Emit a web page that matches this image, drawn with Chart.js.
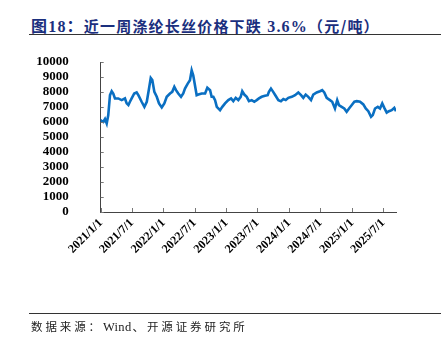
<!DOCTYPE html>
<html>
<head>
<meta charset="utf-8">
<script src="https://cdn.jsdelivr.net/npm/chart.js@4.4.1/dist/chart.umd.min.js"></script>
<style>
  html, body { margin: 0; padding: 0; background: #fff; }
  body { width: 442px; height: 347px; position: relative; overflow: hidden; }
  #title {
    position: absolute; left: 31px; top: 13px; white-space: nowrap;
    font-family: "Liberation Serif", "Noto Sans CJK SC", serif; font-weight: bold;
    font-size: 16px; color: #1B2F7E; letter-spacing: 1.2px;
  }
  #title .cn { font-family: "Noto Sans CJK SC", sans-serif; font-size: 15px; }
  .rule { position: absolute; left: 29px; width: 412px; height: 1px; background: #333; }
  #source {
    position: absolute; left: 31px; top: 318px; white-space: nowrap;
    font-family: "Liberation Serif", "Noto Sans CJK SC", serif;
    font-size: 12px; color: #222;
  }
  #source .cn { font-family: "Noto Sans CJK SC", sans-serif; font-size: 11.5px; letter-spacing: 2.9px; }
  #source .en { font-size: 12.5px; letter-spacing: 0.3px; margin-right: 1px; }
  #wrap { position: absolute; left: 0; top: 0; width: 442px; height: 347px; }
</style>
</head>
<body>
<div id="title">图18：<span class="cn">近一周涤纶长丝价格下跌</span> 3.6%<span class="cn">（元/吨）</span></div>
<div class="rule" style="top:34px"></div>
<div id="wrap"><canvas id="myChart"></canvas></div>
<div class="rule" style="top:313px"></div>
<div id="source"><span class="cn">数据来源：</span><span class="en">Wind</span><span class="cn">、开源证券研究所</span></div>
<script>
// 涤纶长丝价格（元/吨）
const dates = [
  '2021-01-01','2021-01-03','2021-01-16','2021-01-26','2021-02-05','2021-02-14','2021-02-24','2021-03-06',
  '2021-03-15','2021-03-25','2021-04-13','2021-05-03','2021-05-22','2021-06-01','2021-06-11','2021-06-20',
  '2021-06-30','2021-07-15','2021-07-29','2021-08-08','2021-08-27','2021-09-12','2021-09-26','2021-10-09',
  '2021-10-19','2021-10-28','2021-11-09','2021-11-23','2021-12-06','2021-12-22','2022-01-06','2022-01-20',
  '2022-02-08','2022-02-21','2022-03-05','2022-03-15','2022-03-28','2022-04-13','2022-04-26','2022-05-06',
  '2022-05-22','2022-06-04','2022-06-14','2022-06-23','2022-07-03','2022-07-13','2022-07-23','2022-08-11',
  '2022-08-31','2022-09-13','2022-09-29','2022-10-08','2022-10-18','2022-10-28','2022-11-07','2022-11-26',
  '2022-12-09','2022-12-25','2023-01-13','2023-01-29','2023-02-11','2023-02-25','2023-03-12','2023-03-26',
  '2023-04-04','2023-04-16','2023-04-30','2023-05-13','2023-05-29','2023-06-13','2023-06-27','2023-07-10',
  '2023-07-26','2023-08-14','2023-08-30','2023-09-06','2023-09-18','2023-10-01','2023-10-15','2023-10-31',
  '2023-11-15','2023-11-29','2023-12-13','2023-12-28','2024-01-17','2024-02-05','2024-02-24','2024-03-11',
  '2024-03-24','2024-04-07','2024-04-22','2024-05-08','2024-05-21','2024-06-10','2024-06-29','2024-07-12',
  '2024-07-24','2024-08-07','2024-08-26','2024-09-08','2024-09-24','2024-10-07','2024-10-17','2024-11-02',
  '2024-11-17','2024-12-01','2024-12-15','2024-12-31','2025-01-15','2025-01-29','2025-02-17','2025-03-08',
  '2025-03-22','2025-04-06','2025-04-22','2025-05-02','2025-05-15','2025-05-31','2025-06-13','2025-06-26',
  '2025-07-08','2025-07-22','2025-08-04','2025-08-20','2025-09-04','2025-09-14'
];
const prices = [
  5950, 6100, 6000, 6200, 5900, 6460, 7790, 8050,
  7900, 7570, 7570, 7460, 7570, 7240, 7130, 7350,
  7570, 7900, 7970, 7790, 7350, 7010, 7350, 8230,
  8940, 8800, 8010, 7680, 7240, 6970, 7240, 7680,
  7900, 8010, 8340, 8120, 7900, 7680, 7900, 8230,
  8560, 8780, 9450, 9120, 8450, 7790, 7830, 7900,
  7900, 8280, 8120, 7680, 7680, 7460, 7010, 6790,
  7010, 7240, 7460, 7570, 7390, 7610, 7460, 7680,
  8050, 7830, 7680, 7390, 7460, 7350, 7460, 7570,
  7680, 7750, 7790, 8010, 8230, 8010, 7750, 7460,
  7390, 7530, 7460, 7610, 7680, 7790, 7970, 7790,
  7610, 7830, 7680, 7460, 7830, 7970, 8050, 8120,
  7970, 7610, 7460, 7350, 6900, 7460, 7130, 7010,
  6900, 6680, 6900, 7130, 7350, 7390, 7350, 7170,
  6900, 6720, 6350, 6460, 6900, 7010, 6900, 7240,
  6940, 6630, 6720, 6790, 6940, 6720
];
const tickDates = ['2021-01-01','2021-07-01','2022-01-01','2022-07-01','2023-01-01',
  '2023-07-01','2024-01-01','2024-07-01','2025-01-01','2025-07-01'];
const tickLabels = ['2021/1/1','2021/7/1','2022/1/1','2022/7/1','2023/1/1',
  '2023/7/1','2024/1/1','2024/7/1','2025/1/1','2025/7/1'];

const DAY = 86400000;
const base = Date.UTC(2021, 0, 1);
function toDay(s) {
  const p = s.split('-').map(Number);
  return (Date.UTC(p[0], p[1] - 1, p[2]) - base) / DAY;
}
const points = dates.map((d, i) => ({ x: toDay(d), y: prices[i] }));
const tickDays = tickDates.map(toDay);

// 刻度线朝内
const innerTicks = {
  id: 'innerTicks',
  afterDraw(chart) {
    const c = chart.ctx, a = chart.chartArea;
    const xs = chart.scales.x, ys = chart.scales.y;
    c.save();
    c.strokeStyle = '#777';
    c.lineWidth = 1;
    c.beginPath();
    ys.ticks.forEach(t => {
      const y = Math.round(ys.getPixelForValue(t.value)) + 0.5;
      c.moveTo(a.left, y); c.lineTo(a.left + 3, y);
    });
    xs.ticks.forEach(t => {
      const x = Math.round(xs.getPixelForValue(t.value)) + 0.5;
      c.moveTo(x, a.bottom); c.lineTo(x, a.bottom - 4);
    });
    c.stroke();
    c.restore();
  }
};

const ctx = document.getElementById('myChart').getContext('2d');
const chart = new Chart(ctx, {
  type: 'line',
  data: {
    datasets: [{
      label: '涤纶长丝价格',
      data: points,
      borderColor: '#0A6FC2',
      borderWidth: 2.6,
      pointRadius: 0,
      tension: 0,
      fill: false
    }]
  },
  options: {
    responsive: true,
    maintainAspectRatio: false,
    animation: false,
    layout: { padding: { left: 0, right: 46, top: 62, bottom: 75 } },
    plugins: { legend: { display: false }, tooltip: { enabled: false } },
    scales: {
      x: {
        type: 'linear',
        min: 0,
        max: points[points.length - 1].x,
        afterBuildTicks: s => { s.ticks = tickDays.map(v => ({ value: v })); },
        afterFit: s => { s.height = 60; },
        grid: { display: false, drawTicks: false },
        border: { display: true, color: '#444', width: 1 },
        ticks: {
          autoSkip: false,
          minRotation: 45,
          maxRotation: 45,
          padding: 4,
          color: '#000',
          font: { family: 'Liberation Serif', weight: 'bold', size: 12 },
          callback: (v, i) => tickLabels[i]
        }
      },
      y: {
        min: 0,
        max: 10000,
        afterFit: s => { s.width = 100.7; },
        grid: { display: false, drawTicks: false },
        border: { display: true, color: '#444', width: 1 },
        ticks: {
          stepSize: 1000,
          autoSkip: false,
          padding: 32,
          color: '#000',
          font: { family: 'Liberation Serif', weight: 'bold', size: 13 },
          callback: v => String(v)
        }
      }
    }
  },
  plugins: [innerTicks]
});
</script>
</body>
</html>
